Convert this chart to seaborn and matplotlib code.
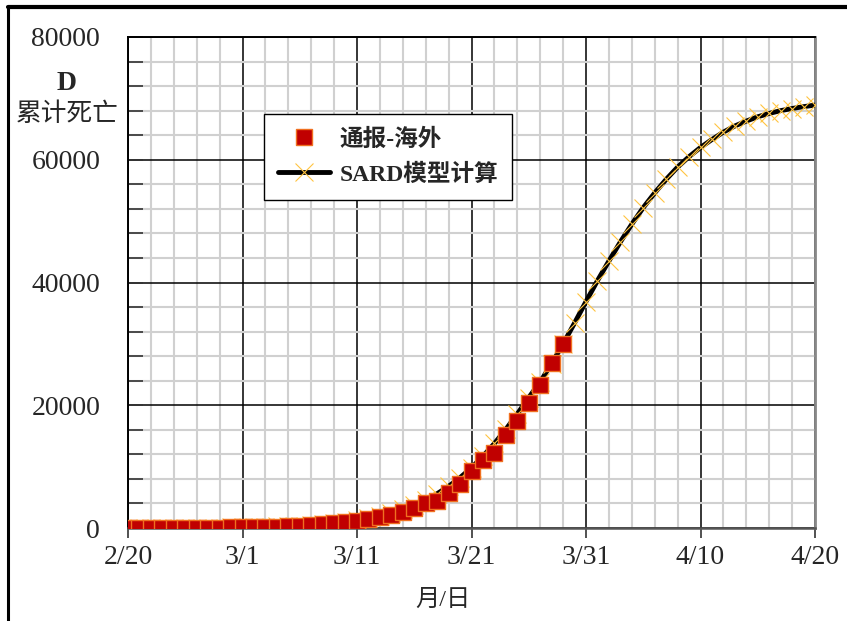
import numpy as np
import pandas as pd
import seaborn as sns
import matplotlib
matplotlib.use("Agg")
import matplotlib.pyplot as plt
from matplotlib.lines import Line2D
from matplotlib.ticker import MultipleLocator

# ---- data ----
obs_day = list(range(0, 39))
obs_deaths = [8, 11, 15, 20, 28, 35, 45, 60, 70, 85,
              105, 130, 170, 210, 270, 340, 420, 600, 770, 900,
              1140, 1470, 1740, 2120, 2600, 3260, 4120, 4400, 5750, 7120,
              9240, 11080, 12270, 15150, 17480, 20310, 23300, 26830, 29970]

model_day = list(range(0, 61))
model_deaths = [10, 13, 17, 22, 28, 36, 46, 58, 74, 94,
                120, 152, 193, 245, 310, 393, 497, 628, 792, 997,
                1252, 1568, 1957, 2434, 3016, 3722, 4573, 5589, 6791, 8198,
                9826, 11684, 13771, 16078, 18584, 21256, 23800, 26800, 30000, 33400,
                36900, 40300, 43500, 46600, 49500, 52200, 54600, 56800, 58800, 60500,
                62000, 63300, 64500, 65500, 66300, 67000, 67550, 68000, 68350, 68650,
                68900]

xtick_pos = [0, 10, 20, 30, 40, 50, 60]
xtick_labels = ["2/20", "3/1", "3/11", "3/21", "3/31", "4/10", "4/20"]
ytick_pos = [0, 20000, 40000, 60000, 80000]

series_obs = "通报-海外"
series_model = "SARD模型计算"

df_obs = pd.DataFrame({"day": obs_day, "deaths": obs_deaths})
df_model = pd.DataFrame({"day": model_day, "deaths": model_deaths})

sns.set_theme(style="white")
plt.rcParams["font.family"] = ["Liberation Serif", "Noto Sans CJK SC", "DejaVu Sans"]

fig = plt.figure(figsize=(8.47, 6.21), dpi=100)
ax = fig.add_axes([128 / 847, 1 - 528 / 621, 687 / 847, 491 / 621])

sns.lineplot(data=df_model, x="day", y="deaths", ax=ax, color="black", lw=3.5,
             marker="x", markersize=13, markeredgecolor="#FFC440", mew=0.8,
             zorder=3, legend=False)
sns.scatterplot(data=df_obs, x="day", y="deaths", ax=ax, marker="s", s=140,
                color="#C00000", edgecolor="#F07020", linewidth=1.0, zorder=4,
                legend=False)

ax.set_xlim(0, 60)
ax.set_ylim(0, 80000)
ax.set_xticks(xtick_pos)
ax.set_xticklabels(xtick_labels)
ax.set_yticks(ytick_pos)
ax.set_yticklabels([str(v) for v in ytick_pos])
ax.xaxis.set_minor_locator(MultipleLocator(2))
ax.yaxis.set_minor_locator(MultipleLocator(4000))

ax.set_axisbelow(True)
ax.grid(which="minor", color="#d0d0d0", lw=1.5)
ax.grid(which="major", color="black", lw=1.1)

ax.tick_params(axis="x", which="major", direction="out", length=7, width=1.2,
               color="#333333", labelsize=20, pad=5, bottom=True)
ax.tick_params(axis="x", which="minor", length=0)
ax.tick_params(axis="y", which="both", direction="in", length=11, width=1.2,
               color="#333333", labelsize=20, pad=20, left=True)

for side, col, lw in [("left", "black", 1.4), ("bottom", "#555555", 1.8),
                      ("top", "black", 1.4), ("right", "#888888", 2.0)]:
    ax.spines[side].set_visible(True)
    ax.spines[side].set_color(col)
    ax.spines[side].set_linewidth(lw)

ax.set_xlabel("")
ax.set_ylabel("")

fig.text(67 / 847, 1 - 83 / 621, "D", ha="center", va="center", fontsize=20,
         fontweight="bold")
fig.text(67 / 847, 1 - 114 / 621, "累计死亡", ha="center", va="center", fontsize=18.5)
fig.text(443 / 847, 1 - 600 / 621, "月/日", ha="center", va="center", fontsize=17.5)

handles = [
    Line2D([], [], ls="none", marker="s", markersize=11.5, markerfacecolor="#C00000",
           markeredgecolor="#F07020", mew=1.0),
    Line2D([], [], color="black", lw=3.5, marker="x", markersize=13,
           markeredgecolor="#FFC440", mew=0.8),
]
leg = ax.legend(handles, [series_obs, series_model], loc="upper left",
                bbox_to_anchor=((264 - 128) / 687, (528 - 114) / 491),
                borderaxespad=0, frameon=True, fancybox=False, framealpha=1,
                edgecolor="black", prop={"size": 17, "weight": "bold"},
                handlelength=2.2, labelspacing=0.55, borderpad=0.6,
                handletextpad=0.4)
leg.get_frame().set_linewidth(1.0)

fig.add_artist(Line2D([8 / 847, 8 / 847], [0, 1 - 7 / 621], transform=fig.transFigure,
                      color="black", lw=2.2))
fig.add_artist(Line2D([8 / 847, 1], [1 - 7 / 621, 1 - 7 / 621], transform=fig.transFigure,
                      color="black", lw=3.0))

fig.savefig("out.png", dpi=100, facecolor="white")
